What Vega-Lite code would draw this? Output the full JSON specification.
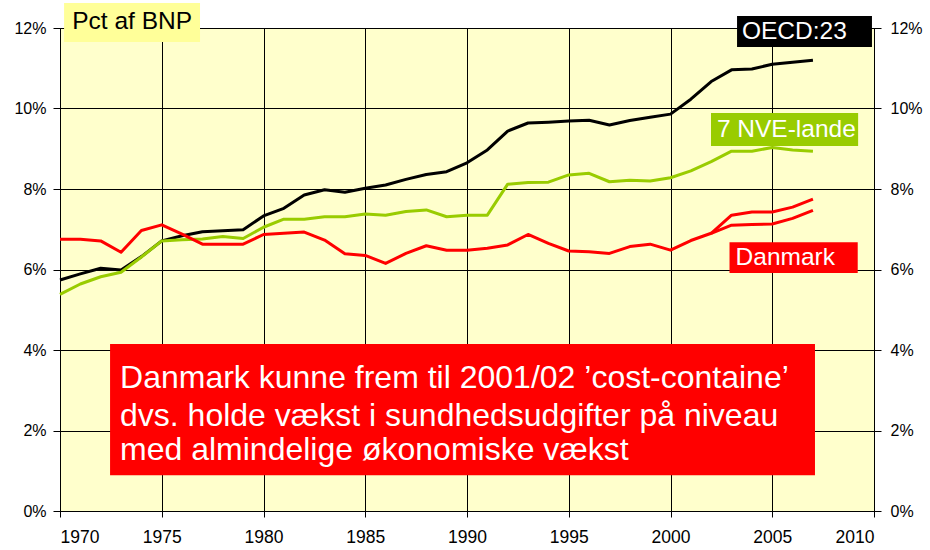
{
  "$schema": "https://vega.github.io/schema/vega-lite/v6.json",
  "autosize": "none",
  "width": 814,
  "height": 483,
  "padding": {"left": 60, "top": 28, "right": 56, "bottom": 39},
  "background": "white",
  "config": {
    "view": {"fill": "#FFFFCC", "stroke": "#000000", "strokeWidth": 1},
    "font": "Liberation Sans",
    "axis": {"labelFont": "Liberation Sans", "labelFontSize": 16, "labelColor": "#000000", "tickColor": "#000000", "domainColor": "#000000", "gridColor": "#000000", "gridOpacity": 1, "gridWidth": 1}
  },
  "datasets": {
    "series": [
      {"year": 1970, "s": "OECD", "v": 5.74}, {"year": 1971, "s": "OECD", "v": 5.89}, {"year": 1972, "s": "OECD", "v": 6.03}, {"year": 1973, "s": "OECD", "v": 5.99}, {"year": 1974, "s": "OECD", "v": 6.32}, {"year": 1975, "s": "OECD", "v": 6.71}, {"year": 1976, "s": "OECD", "v": 6.84}, {"year": 1977, "s": "OECD", "v": 6.94}, {"year": 1978, "s": "OECD", "v": 6.96}, {"year": 1979, "s": "OECD", "v": 6.99}, {"year": 1980, "s": "OECD", "v": 7.33}, {"year": 1981, "s": "OECD", "v": 7.52}, {"year": 1982, "s": "OECD", "v": 7.85}, {"year": 1983, "s": "OECD", "v": 7.98}, {"year": 1984, "s": "OECD", "v": 7.92}, {"year": 1985, "s": "OECD", "v": 8.02}, {"year": 1986, "s": "OECD", "v": 8.1}, {"year": 1987, "s": "OECD", "v": 8.24}, {"year": 1988, "s": "OECD", "v": 8.36}, {"year": 1989, "s": "OECD", "v": 8.43}, {"year": 1990, "s": "OECD", "v": 8.65}, {"year": 1991, "s": "OECD", "v": 8.97}, {"year": 1992, "s": "OECD", "v": 9.44}, {"year": 1993, "s": "OECD", "v": 9.64}, {"year": 1994, "s": "OECD", "v": 9.66}, {"year": 1995, "s": "OECD", "v": 9.69}, {"year": 1996, "s": "OECD", "v": 9.71}, {"year": 1997, "s": "OECD", "v": 9.59}, {"year": 1998, "s": "OECD", "v": 9.7}, {"year": 1999, "s": "OECD", "v": 9.78}, {"year": 2000, "s": "OECD", "v": 9.86}, {"year": 2001, "s": "OECD", "v": 10.23}, {"year": 2002, "s": "OECD", "v": 10.67}, {"year": 2003, "s": "OECD", "v": 10.96}, {"year": 2004, "s": "OECD", "v": 10.98}, {"year": 2005, "s": "OECD", "v": 11.1}, {"year": 2006, "s": "OECD", "v": 11.15}, {"year": 2007, "s": "OECD", "v": 11.2},
      {"year": 1970, "s": "NVE", "v": 5.38}, {"year": 1971, "s": "NVE", "v": 5.64}, {"year": 1972, "s": "NVE", "v": 5.82}, {"year": 1973, "s": "NVE", "v": 5.93}, {"year": 1974, "s": "NVE", "v": 6.31}, {"year": 1975, "s": "NVE", "v": 6.71}, {"year": 1976, "s": "NVE", "v": 6.74}, {"year": 1977, "s": "NVE", "v": 6.76}, {"year": 1978, "s": "NVE", "v": 6.82}, {"year": 1979, "s": "NVE", "v": 6.77}, {"year": 1980, "s": "NVE", "v": 7.05}, {"year": 1981, "s": "NVE", "v": 7.25}, {"year": 1982, "s": "NVE", "v": 7.25}, {"year": 1983, "s": "NVE", "v": 7.31}, {"year": 1984, "s": "NVE", "v": 7.31}, {"year": 1985, "s": "NVE", "v": 7.38}, {"year": 1986, "s": "NVE", "v": 7.35}, {"year": 1987, "s": "NVE", "v": 7.44}, {"year": 1988, "s": "NVE", "v": 7.48}, {"year": 1989, "s": "NVE", "v": 7.31}, {"year": 1990, "s": "NVE", "v": 7.35}, {"year": 1991, "s": "NVE", "v": 7.35}, {"year": 1992, "s": "NVE", "v": 8.12}, {"year": 1993, "s": "NVE", "v": 8.16}, {"year": 1994, "s": "NVE", "v": 8.17}, {"year": 1995, "s": "NVE", "v": 8.35}, {"year": 1996, "s": "NVE", "v": 8.39}, {"year": 1997, "s": "NVE", "v": 8.18}, {"year": 1998, "s": "NVE", "v": 8.22}, {"year": 1999, "s": "NVE", "v": 8.2}, {"year": 2000, "s": "NVE", "v": 8.28}, {"year": 2001, "s": "NVE", "v": 8.45}, {"year": 2002, "s": "NVE", "v": 8.68}, {"year": 2003, "s": "NVE", "v": 8.94}, {"year": 2004, "s": "NVE", "v": 8.94}, {"year": 2005, "s": "NVE", "v": 9.03}, {"year": 2006, "s": "NVE", "v": 8.97}, {"year": 2007, "s": "NVE", "v": 8.94},
      {"year": 1970, "s": "DK", "v": 6.75}, {"year": 1971, "s": "DK", "v": 6.75}, {"year": 1972, "s": "DK", "v": 6.71}, {"year": 1973, "s": "DK", "v": 6.43}, {"year": 1974, "s": "DK", "v": 6.97}, {"year": 1975, "s": "DK", "v": 7.11}, {"year": 1976, "s": "DK", "v": 6.88}, {"year": 1977, "s": "DK", "v": 6.63}, {"year": 1978, "s": "DK", "v": 6.63}, {"year": 1979, "s": "DK", "v": 6.63}, {"year": 1980, "s": "DK", "v": 6.87}, {"year": 1981, "s": "DK", "v": 6.9}, {"year": 1982, "s": "DK", "v": 6.93}, {"year": 1983, "s": "DK", "v": 6.73}, {"year": 1984, "s": "DK", "v": 6.39}, {"year": 1985, "s": "DK", "v": 6.35}, {"year": 1986, "s": "DK", "v": 6.15}, {"year": 1987, "s": "DK", "v": 6.4}, {"year": 1988, "s": "DK", "v": 6.59}, {"year": 1989, "s": "DK", "v": 6.48}, {"year": 1990, "s": "DK", "v": 6.48}, {"year": 1991, "s": "DK", "v": 6.53}, {"year": 1992, "s": "DK", "v": 6.61}, {"year": 1993, "s": "DK", "v": 6.87}, {"year": 1994, "s": "DK", "v": 6.65}, {"year": 1995, "s": "DK", "v": 6.46}, {"year": 1996, "s": "DK", "v": 6.44}, {"year": 1997, "s": "DK", "v": 6.4}, {"year": 1998, "s": "DK", "v": 6.57}, {"year": 1999, "s": "DK", "v": 6.63}, {"year": 2000, "s": "DK", "v": 6.48}, {"year": 2001, "s": "DK", "v": 6.72}, {"year": 2002, "s": "DK", "v": 6.9}, {"year": 2003, "s": "DK", "v": 7.35}, {"year": 2004, "s": "DK", "v": 7.43}, {"year": 2005, "s": "DK", "v": 7.43}, {"year": 2006, "s": "DK", "v": 7.55}, {"year": 2007, "s": "DK", "v": 7.75},
      {"year": 2002, "s": "DK2", "v": 6.9}, {"year": 2003, "s": "DK2", "v": 7.1}, {"year": 2004, "s": "DK2", "v": 7.12}, {"year": 2005, "s": "DK2", "v": 7.13}, {"year": 2006, "s": "DK2", "v": 7.27}, {"year": 2007, "s": "DK2", "v": 7.47}
    ],
    "boxes": [
      {"name": "bnp", "x1": 1970.2, "x2": 1976.88, "y1": 12.62, "y2": 11.65},
      {"name": "oecd", "x1": 2003.27, "x2": 2009.9, "y1": 12.3, "y2": 11.53},
      {"name": "nve", "x1": 2001.99, "x2": 2009.22, "y1": 9.89, "y2": 9.07},
      {"name": "dk", "x1": 2002.9, "x2": 2009.2, "y1": 6.68, "y2": 5.91},
      {"name": "note", "x1": 1972.46, "x2": 2007.1, "y1": 4.15, "y2": 0.89}
    ],
    "labels": [
      {"name": "bnp", "x": 1970.6, "y": 12.15, "text": "Pct af BNP", "size": "m"},
      {"name": "oecd", "x": 2003.51, "y": 11.9, "text": "OECD:23", "size": "m"},
      {"name": "nve", "x": 2002.28, "y": 9.47, "text": "7 NVE-lande", "size": "m"},
      {"name": "dk", "x": 2003.2, "y": 6.28, "text": "Danmark", "size": "m"},
      {"name": "note", "x": 1972.95, "y": 3.3, "text": "Danmark kunne frem til 2001/02 ’cost-containe’", "size": "l"},
      {"name": "note", "x": 1972.95, "y": 2.36, "text": "dvs. holde vækst i sundhedsudgifter på niveau", "size": "l"},
      {"name": "note", "x": 1972.95, "y": 1.52, "text": "med almindelige økonomiske vækst", "size": "l"}
    ]
  },
  "layer": [
    {
      "data": {"name": "series"},
      "mark": {"type": "line", "strokeJoin": "round", "strokeCap": "butt"},
      "encoding": {
        "x": {"field": "year", "type": "quantitative", "scale": {"domain": [1970, 2010], "nice": false, "zero": false},
              "axis": {"values": [1970, 1975, 1980, 1985, 1990, 1995, 2000, 2005, 2010], "format": "d", "title": null, "grid": true, "tickSize": 6, "labelPadding": 11, "labelFontSize": 17.5, "domain": true}},
        "y": {"field": "v", "type": "quantitative", "scale": {"domain": [0, 12], "nice": false},
              "axis": {"orient": "left", "values": [0, 2, 4, 6, 8, 10, 12], "labelExpr": "datum.value + '%'", "title": null, "grid": true, "tickSize": 7, "labelPadding": 7}},
        "detail": {"field": "s"},
        "color": {"field": "s", "type": "nominal", "scale": {"domain": ["OECD", "NVE", "DK", "DK2"], "range": ["#000000", "#99CC00", "#FF0000", "#FF0000"]}, "legend": null},
        "strokeWidth": {"field": "s", "type": "nominal", "scale": {"domain": ["OECD", "NVE", "DK", "DK2"], "range": [3, 3, 3, 1]}, "legend": null}
      }
    },
    {
      "data": {"name": "boxes"},
      "mark": {"type": "rect"},
      "encoding": {
        "x": {"field": "x1", "type": "quantitative"},
        "x2": {"field": "x2"},
        "y": {"field": "y1", "type": "quantitative", "axis": {"orient": "right", "values": [0, 2, 4, 6, 8, 10, 12], "labelExpr": "datum.value + '%'", "title": null, "grid": false, "tickSize": 7, "labelPadding": 9}},
        "y2": {"field": "y2"},
        "fill": {"field": "name", "type": "nominal", "scale": {"domain": ["bnp", "oecd", "nve", "dk", "note"], "range": ["#FFFF99", "#000000", "#99CC00", "#FF0000", "#FF0000"]}, "legend": null}
      }
    },
    {
      "data": {"name": "labels"},
      "mark": {"type": "text", "align": "left", "baseline": "middle", "font": "Liberation Sans"},
      "encoding": {
        "x": {"field": "x", "type": "quantitative"},
        "y": {"field": "y", "type": "quantitative", "axis": null},
        "text": {"field": "text"},
        "color": {"field": "name", "type": "nominal", "scale": {"domain": ["bnp", "oecd", "nve", "dk", "note"], "range": ["#000000", "#FFFFFF", "#FFFFFF", "#FFFFFF", "#FFFFFF"]}, "legend": null},
        "size": {"field": "size", "type": "nominal", "scale": {"domain": ["m", "l"], "range": [24.5, 32]}, "legend": null}
      }
    }
  ],
  "resolve": {"scale": {"color": "independent", "fill": "independent"}, "axis": {"y": "independent"}}
}
